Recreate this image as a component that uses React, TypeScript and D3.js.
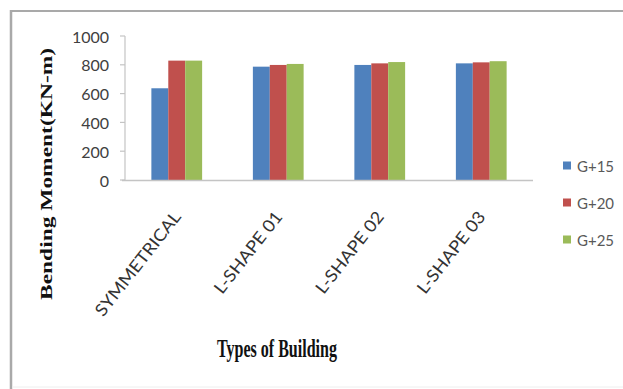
import React from "react";
import * as d3 from "d3";

const categories = ["SYMMETRICAL", "L-SHAPE 01", "L-SHAPE 02", "L-SHAPE 03"];
const seriesNames = ["G+15", "G+20", "G+25"];
const g15 = [637, 787, 799, 810];
const g20 = [829, 799, 810, 817];
const g25 = [829, 806, 819, 825];
const yTicks = [0, 200, 400, 600, 800, 1000];
const colors = ["#4F81BD", "#C0504D", "#9BBB59"];

const W = 623;
const H = 389;
const plot = { left: 126, right: 532, top: 36, bottom: 180 };

export default function App() {
  const series = [g15, g20, g25];
  const x0 = d3
    .scaleBand<string>()
    .domain(categories)
    .range([plot.left, plot.right])
    .paddingInner(0.5)
    .paddingOuter(0.25);
  const x1 = d3
    .scaleBand<string>()
    .domain(seriesNames)
    .range([0, x0.bandwidth()])
    .padding(0);
  const y = d3.scaleLinear().domain([0, 1000]).range([plot.bottom, plot.top]);

  const sans = "Lato, 'Open Sans', sans-serif";
  const serif = "'Liberation Serif', 'DejaVu Serif', serif";

  return (
    <svg
      width={W}
      height={H}
      style={{ position: "absolute", left: 0, top: 0, display: "block", background: "#fff" }}
    >
      {/* chart frame */}
      <line x1={10} x2={W} y1={11} y2={11} stroke="#a9a9a9" strokeWidth={2} />
      <line x1={11} x2={11} y1={10} y2={H} stroke="#a9a9a9" strokeWidth={2.5} />
      <line x1={12} x2={W} y1={387} y2={387} stroke="#eeeeee" strokeWidth={1} />

      {/* y axis */}
      <line x1={plot.left - 1} x2={plot.left - 1} y1={y(1000)} y2={y(0)} stroke="#c4c4c4" strokeWidth={1.2} />
      {yTicks.map((t) => (
        <g key={t}>
          <line x1={plot.left - 6} x2={plot.left - 1} y1={y(t)} y2={y(t)} stroke="#c4c4c4" strokeWidth={1.2} />
          <text
            x={109}
            y={y(t)}
            textAnchor="end"
            dominantBaseline="central"
            fontFamily={sans}
            fontSize={16}
            fill="#404040"
          >
            {t}
          </text>
        </g>
      ))}

      {/* bars */}
      {categories.map((c, i) => (
        <g key={c} transform={`translate(${x0(c)},0)`}>
          {series.map((vals, s) => (
            <rect
              key={seriesNames[s]}
              x={x1(seriesNames[s])}
              y={y(vals[i])}
              width={x1.bandwidth()}
              height={y(0) - y(vals[i])}
              fill={colors[s]}
            />
          ))}
        </g>
      ))}

      {/* x axis */}
      <line x1={plot.left - 4} x2={plot.right + 1} y1={y(0) + 0.5} y2={y(0) + 0.5} stroke="#c4c4c4" strokeWidth={1.5} />
      {categories.map((c) => {
        const cx = (x0(c) as number) + x0.bandwidth() / 2;
        return (
          <text
            key={c}
            transform={`translate(${cx + 5},${217}) rotate(-52) scale(1.08,1)`}
            textAnchor="end"
            fontFamily={sans}
            fontSize={17}
            fill="#333"
          >
            {c}
          </text>
        );
      })}

      {/* axis titles */}
      <text
        transform="translate(52,174) rotate(-90)"
        textAnchor="middle"
        fontFamily={serif}
        fontWeight="bold"
        fontSize={17.5}
        textLength={252}
        lengthAdjust="spacingAndGlyphs"
        fill="#111"
      >
        Bending Moment(KN-m)
      </text>
      <text
        x={277}
        y={357}
        textAnchor="middle"
        fontFamily={serif}
        fontWeight="bold"
        fontSize={25}
        textLength={120}
        lengthAdjust="spacingAndGlyphs"
        fill="#111"
      >
        Types of Building
      </text>

      {/* legend */}
      {seriesNames.map((n, s) => {
        const cy = 165.5 + s * 37;
        return (
          <g key={n}>
            <rect x={563} y={cy - 4} width={8} height={8} fill={colors[s]} />
            <text x={577} y={cy} dominantBaseline="central" fontFamily={sans} fontSize={15} fill="#595959">
              {n}
            </text>
          </g>
        );
      })}
    </svg>
  );
}
